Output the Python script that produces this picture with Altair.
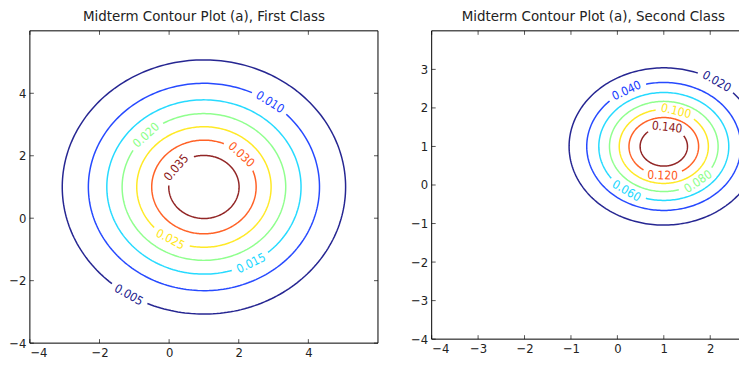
import altair as alt
import numpy as np
import pandas as pd

# ---------------- data ----------------
# Left panel: "First Class"
left_labels = ["0.005", "0.010", "0.015", "0.020", "0.025", "0.030", "0.035"]
left_radius = [4.07, 3.32, 2.79, 2.35, 1.93, 1.50, 1.01]          # contour radius (data units)
left_label_pos = [-122, 55, -61, 135, -120, 44, 142]              # inline label position (deg around centre)
left_center = (1.0, 1.0)
left_xticks = [-4, -2, 0, 2, 4]
left_yticks = [-4, -2, 0, 2, 4]

# Right panel: "Second Class"
right_labels = ["0.020", "0.040", "0.060", "0.080", "0.100", "0.120", "0.140"]
right_radius = [2.04, 1.66, 1.40, 1.17, 0.96, 0.75, 0.51]
right_label_pos = [56, 119, -125, -51, 74, -92, 82]
right_center = (1.0, 1.0)
right_xticks = [-4, -3, -2, -1, 0, 1, 2]
right_yticks = [-4, -3, -2, -1, 0, 1, 2, 3]

jet_colors = ["#00007f", "#002aff", "#00d4ff", "#7dff7a", "#ffe500", "#ff4700", "#7f0000"]

FONT = "DejaVu Sans Condensed"


def panel(title, labels, radius, label_pos, center, xdom, ydom, w, h, xticks, yticks,
          right_border, title_dx, key):
    sx = w / (xdom[1] - xdom[0])
    sy = h / (ydom[1] - ydom[0])
    rows, lab_rows = [], []
    for lb, r, a in zip(labels, radius, label_pos):
        t0 = np.radians(a)
        speed = r * np.hypot(sx * np.sin(t0), sy * np.cos(t0))
        half_gap = (len(lb) * 3.3 + 4) / speed
        ts = np.linspace(t0 + half_gap, t0 + 2 * np.pi - half_gap, 240)
        for k, t in enumerate(ts):
            rows.append({"x": center[0] + r * np.cos(t), "y": center[1] + r * np.sin(t),
                         key: lb, "order": k})
        ang = np.degrees(np.arctan2(-sy * np.cos(t0), -sx * np.sin(t0)))
        if ang > 90:
            ang -= 180
        if ang <= -90:
            ang += 180
        lab_rows.append({"x": center[0] + r * np.cos(t0), "y": center[1] + r * np.sin(t0),
                         key: lb, "ang": ang})
    lines_df = pd.DataFrame(rows)
    labs_df = pd.DataFrame(lab_rows)

    xscale = alt.Scale(domain=list(xdom), nice=False, zero=False)
    yscale = alt.Scale(domain=list(ydom), nice=False, zero=False)
    xaxis = alt.Axis(values=xticks, ticks=False, domain=False, grid=False, labelPadding=3,
                     labelFont=FONT, labelFontSize=13, labelColor="#222", title=None)
    yaxis = alt.Axis(values=yticks, ticks=False, domain=False, grid=False, labelPadding=4,
                     labelFont=FONT, labelFontSize=13, labelColor="#222", title=None)
    color = alt.Color(f"{key}:N", scale=alt.Scale(domain=labels, range=jet_colors), legend=None)

    X = alt.X("x:Q", scale=xscale, axis=xaxis)
    Y = alt.Y("y:Q", scale=yscale, axis=yaxis)

    lines = alt.Chart(lines_df).mark_line(strokeWidth=1.5, opacity=0.85, clip=True).encode(
        x=X, y=Y, color=color, detail=f"{key}:N", order="order:Q")
    texts = alt.Chart(labs_df).mark_text(font=FONT, fontSize=12, opacity=0.9, clip=True).encode(
        x=X, y=Y, text=f"{key}:N", angle=alt.Angle("ang:Q", scale=None), color=color)

    xt = pd.DataFrame({"x": xticks})
    yt = pd.DataFrame({"y": yticks})
    tick_style = dict(color="#555", strokeWidth=1)
    layers = [lines, texts]
    layers.append(alt.Chart(xt).mark_rule(**tick_style).encode(
        x=X, y=alt.value(h), y2=alt.value(h - 4)))
    layers.append(alt.Chart(xt).mark_rule(**tick_style).encode(
        x=X, y=alt.value(0), y2=alt.value(4)))
    layers.append(alt.Chart(yt).mark_rule(**tick_style).encode(
        y=Y, x=alt.value(0), x2=alt.value(4)))
    if right_border:
        layers.append(alt.Chart(yt).mark_rule(**tick_style).encode(
            y=Y, x=alt.value(w), x2=alt.value(w - 4)))

    # frame of the plot area
    border = dict(color="black", strokeWidth=1)
    frame_df = pd.DataFrame({"k": [0]})
    layers.append(alt.Chart(frame_df).mark_rule(**border).encode(
        x=alt.value(0), x2=alt.value(w), y=alt.value(0)))
    layers.append(alt.Chart(frame_df).mark_rule(**border).encode(
        x=alt.value(0), x2=alt.value(w), y=alt.value(h)))
    layers.append(alt.Chart(frame_df).mark_rule(**border).encode(
        x=alt.value(0), y=alt.value(0), y2=alt.value(h)))
    if right_border:
        layers.append(alt.Chart(frame_df).mark_rule(**border).encode(
            x=alt.value(w), y=alt.value(0), y2=alt.value(h)))

    return alt.layer(*layers).properties(
        width=w, height=h,
        title=alt.TitleParams(title, font=FONT, fontSize=15, fontWeight="normal",
                              color="#222", anchor="middle", offset=6, dx=title_dx))


left = panel("Midterm Contour Plot (a), First Class", left_labels, left_radius, left_label_pos,
             left_center, (-4, 6), (-4, 6), 350, 314, left_xticks, left_yticks, True, 0, "lvl1")
right = panel("Midterm Contour Plot (a), Second Class", right_labels, right_radius, right_label_pos,
              right_center, (-4, 2.62), (-4, 4), 309, 310, right_xticks, right_yticks, False, 8, "lvl2")

chart = alt.hconcat(left, right, spacing=31).resolve_scale(color="independent").properties(
    padding={"left": 0, "top": 0, "right": 0, "bottom": 0}
).configure_view(strokeWidth=0)

chart.save("out.html", embed_options={"renderer": "svg", "actions": False})
